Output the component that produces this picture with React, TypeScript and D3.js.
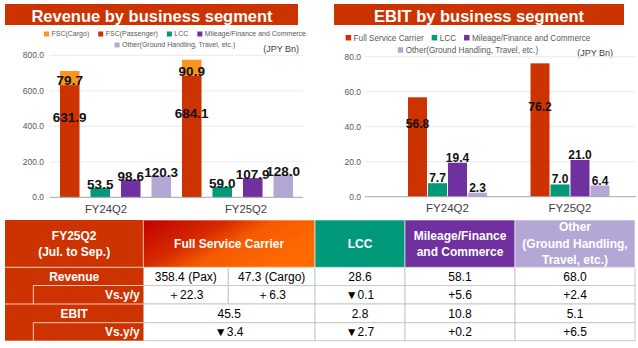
import React from "react";
import * as d3 from "d3";

// ---------- data ----------
const categories = ["FY24Q2", "FY25Q2"];
const revCargo = [79.7, 90.9];
const revPax = [631.9, 684.1];
const revLCC = [53.5, 59.0];
const revMileage = [98.6, 107.9];
const revOther = [120.3, 128.0];
const revTicks = [0, 200, 400, 600, 800];

const ebitFSC = [56.8, 76.2];
const ebitLCC = [7.7, 7.0];
const ebitMileage = [19.4, 21.0];
const ebitOther = [2.3, 6.4];
const ebitTicks = [0, 20, 40, 60, 80];

const revLegend = ["FSC(Cargo)", "FSC(Passenger)", "LCC", "Mileage/Finance and Commerce", "Other(Ground Handling, Travel, etc.)"];
const ebitLegend = ["Full Service Carrier", "LCC", "Mileage/Finance and Commerce", "Other(Ground Handling, Travel, etc.)"];

const tablePeriod = ["FY25Q2", "(Jul. to Sep.)"];
const tableSegments = [["Full Service Carrier"], ["LCC"], ["Mileage/Finance", "and Commerce"], ["Other", "(Ground Handling,", "Travel, etc.)"]];
const rowLabels = ["Revenue", "Vs.y/y", "EBIT", "Vs.y/y"];
const revenueValues = ["358.4 (Pax)", "47.3 (Cargo)", "28.6", "58.1", "68.0"];
const revenueYoY = ["＋22.3", "＋6.3", "▼0.1", "+5.6", "+2.4"];
const ebitValues = ["45.5", "2.8", "10.8", "5.1"];
const ebitYoY = ["▼3.4", "▼2.7", "+0.2", "+6.5"];

// ---------- style ----------
const FONT = "'Liberation Sans', Arial, Helvetica, sans-serif";
const RED = "#cc3300";
const ORANGE = "#f8961e";
const TEAL = "#00997a";
const PURPLE = "#7030a0";
const LAVENDER = "#b4a7d6";
const revColors = [ORANGE, RED, TEAL, PURPLE, LAVENDER];
const ebitColors = [RED, TEAL, PURPLE, LAVENDER];
const segColors = [null, TEAL, PURPLE, LAVENDER];

let _ctx: CanvasRenderingContext2D | null = null;
function tw(text: string, size: number, weight = "normal") {
  if (!_ctx && typeof document !== "undefined") _ctx = document.createElement("canvas").getContext("2d");
  if (!_ctx) return text.length * size * 0.5;
  _ctx.font = `${weight} ${size}px 'Liberation Sans'`;
  return _ctx.measureText(text).width;
}

function Legend({ items, colors, rows, ys, cx, size, sq, gap }: any) {
  const out: any[] = [];
  rows.forEach((row: number[], ri: number) => {
    const widths = row.map((i) => sq + 2.5 + tw(items[i], size));
    const total = d3.sum(widths) + gap * (row.length - 1);
    let x = cx - total / 2;
    row.forEach((i, k) => {
      out.push(
        <g key={i}>
          <rect x={x} y={ys[ri] - sq / 2} width={sq} height={sq} fill={colors[i]} />
          <text x={x + sq + 2.5} y={ys[ri]} dy="0.35em" fontSize={size} fill="#595959">{items[i]}</text>
        </g>
      );
      x += widths[k] + gap;
    });
  });
  return <g>{out}</g>;
}

function RevenueChart() {
  const y = d3.scaleLinear().domain([0, 800]).range([197.3, 55.3]);
  const x0 = d3.scaleBand().domain(categories).range([54.5, 298.5]).padding(0);
  const x1 = d3.scaleBand().domain(["fsc", "lcc", "mil", "oth"]).range([0, x0.bandwidth()]).paddingInner(0.36).paddingOuter(0.18);
  const xl = d3.scalePoint().domain(categories).range([106, 246]);
  const bw = x1.bandwidth();
  const fs = 13.5;
  return (
    <g>
      <rect x={5} y={4} width={293} height={21} fill={RED} />
      <text x={152} y={21.5} textAnchor="middle" fontSize={16.5} fontWeight="bold" fill="#fff">Revenue by business segment</text>
      <Legend items={revLegend} colors={revColors} rows={[[0, 1, 2, 3], [4]]} ys={[34, 45]} cx={175} size={7} sq={5} gap={9} />
      <text x={299} y={52} textAnchor="end" fontSize={9} fill="#404040">(JPY Bn)</text>
      {revTicks.map((t) => (
        <g key={t}>
          {t > 0 && <line x1={50} x2={303} y1={y(t)} y2={y(t)} stroke="#ebebeb" strokeWidth={1} />}
          <text x={44} y={y(t)} dy="0.35em" textAnchor="end" fontSize={8.5} fill="#595959">{t.toFixed(1)}</text>
        </g>
      ))}
      {categories.map((c, i) => {
        const gx = x0(c)!;
        const xp = gx + x1("fsc")!;
        const simple = [
          { k: "lcc", v: revLCC[i], col: TEAL },
          { k: "mil", v: revMileage[i], col: PURPLE },
          { k: "oth", v: revOther[i], col: LAVENDER },
        ];
        const paxTop = y(revPax[i]);
        const cargoTop = y(revPax[i] + revCargo[i]);
        return (
          <g key={c}>
            <rect x={xp} y={cargoTop} width={bw} height={paxTop - cargoTop} fill={ORANGE} />
            <rect x={xp} y={paxTop} width={bw} height={y(0) - paxTop} fill={RED} />
            {simple.map((s) => (
              <rect key={s.k} x={gx + x1(s.k)!} y={y(s.v)} width={bw} height={y(0) - y(s.v)} fill={s.col} />
            ))}
            <text x={xp + bw / 2} y={paxTop} textAnchor="middle" fontSize={fs} fontWeight="bold" fill="#111">{revCargo[i].toFixed(1)}</text>
            <text x={xp + bw / 2} y={(paxTop + y(0)) / 2 - 19} textAnchor="middle" fontSize={fs} fontWeight="bold" fill="#111">{revPax[i].toFixed(1)}</text>
            {simple.map((s) => (
              <text key={s.k} x={gx + x1(s.k)! + bw / 2} y={y(s.v) + 1} textAnchor="middle" fontSize={fs} fontWeight="bold" fill="#111">{s.v.toFixed(1)}</text>
            ))}
            <text x={xl(c)} y={213} textAnchor="middle" fontSize={11.3} fill="#404040">{c}</text>
          </g>
        );
      })}
      <line x1={50} x2={303} y1={y(0)} y2={y(0)} stroke="#a6a6a6" strokeWidth={1} />
    </g>
  );
}

function EbitChart() {
  const y = d3.scaleLinear().domain([0, 80]).range([196.7, 56.7]);
  const x0 = d3.scaleBand().domain(categories).range([386.25, 631.25]).paddingInner(0.347).paddingOuter(0.1735);
  const x1 = d3.scaleBand().domain(["fsc", "lcc", "mil", "oth"]).range([0, x0.bandwidth()]).paddingInner(0.05).paddingOuter(0.025);
  const bw = x1.bandwidth();
  return (
    <g>
      <rect x={334} y={4} width={290} height={21} fill={RED} />
      <text x={479} y={21.5} textAnchor="middle" fontSize={16.5} fontWeight="bold" fill="#fff">EBIT by business segment</text>
      <Legend items={ebitLegend} colors={ebitColors} rows={[[0, 1, 2], [3]]} ys={[37.7, 50]} cx={468} size={8.2} sq={5.5} gap={8} />
      <text x={613} y={56} textAnchor="end" fontSize={9} fill="#404040">(JPY Bn)</text>
      {ebitTicks.map((t) => (
        <g key={t}>
          {t > 0 && <line x1={365} x2={636} y1={y(t)} y2={y(t)} stroke="#ebebeb" strokeWidth={1} />}
          <text x={361} y={y(t)} dy="0.35em" textAnchor="end" fontSize={8.5} fill="#595959">{t.toFixed(1)}</text>
        </g>
      ))}
      {categories.map((c, i) => {
        const gx = x0(c)!;
        const segs = [
          { k: "fsc", v: ebitFSC[i], col: RED },
          { k: "lcc", v: ebitLCC[i], col: TEAL },
          { k: "mil", v: ebitMileage[i], col: PURPLE },
          { k: "oth", v: ebitOther[i], col: LAVENDER },
        ];
        return (
          <g key={c}>
            {segs.map((s) => (
              <rect key={s.k} x={gx + x1(s.k)!} y={y(s.v)} width={bw} height={y(0) - y(s.v)} fill={s.col} />
            ))}
            {segs.map((s, j) => (
              <text key={s.k} x={gx + x1(s.k)! + bw / 2}
                y={j === 0 ? (y(s.v) + y(0)) / 2 - 19 : y(s.v) - 1}
                textAnchor="middle" fontSize={12} fontWeight="bold" fill="#111">{s.v.toFixed(1)}</text>
            ))}
            <text x={gx + x0.bandwidth() / 2} y={212} textAnchor="middle" fontSize={11.5} fill="#404040">{c}</text>
          </g>
        );
      })}
      <line x1={365} x2={636} y1={y(0)} y2={y(0)} stroke="#a6a6a6" strokeWidth={1} />
    </g>
  );
}

function Table() {
  const colX = [5, 143.3, 228.3, 315, 405, 515, 635];
  const rowY = [220, 267.3, 285.5, 304, 322.7, 340.7];
  const indent = 33.3;
  const segSpans = [[1, 3], [3, 4], [4, 5], [5, 6]];
  const revSpans = [[1, 2], [2, 3], [3, 4], [4, 5], [5, 6]];
  const lh = 16.5;
  const hdrMid = (rowY[0] + rowY[1]) / 2;
  const cellText = (x: number, yy: number, t: string) => (
    <text x={x} y={yy} dy="0.36em" textAnchor="middle" fontSize={12} fill="#000">{t}</text>
  );
  const bodyRows = [
    { vals: revenueValues, spans: revSpans, r: 1 },
    { vals: revenueYoY, spans: revSpans, r: 2 },
    { vals: ebitValues, spans: segSpans, r: 3 },
    { vals: ebitYoY, spans: segSpans, r: 4 },
  ];
  return (
    <g>
      <defs>
        <linearGradient id="fscGrad" x1="0" y1="0" x2="1" y2="0.5">
          <stop offset="0%" stopColor="#c00000" />
          <stop offset="40%" stopColor="#d52a00" />
          <stop offset="62%" stopColor="#f55a00" />
          <stop offset="100%" stopColor="#ff6a00" />
        </linearGradient>
      </defs>
      {bodyRows.map((br) =>
        br.spans.map(([a, b], k) => (
          <g key={`${br.r}-${k}`}>
            <rect x={colX[a]} y={rowY[br.r]} width={colX[b] - colX[a]} height={rowY[br.r + 1] - rowY[br.r]} fill="#fff" stroke="#c8c8c8" strokeWidth={1} />
            {cellText((colX[a] + colX[b]) / 2, (rowY[br.r] + rowY[br.r + 1]) / 2, br.vals[k])}
          </g>
        ))
      )}
      <rect x={colX[0]} y={rowY[0]} width={colX[1] - colX[0]} height={rowY[5] - rowY[0]} fill={RED} />
      {[1, 3].map((r) => (
        <line key={"h" + r} x1={colX[0]} x2={colX[1]} y1={rowY[r]} y2={rowY[r]} stroke="#fff" strokeOpacity={0.75} strokeWidth={1} />
      ))}
      {[2, 4].map((r) => (
        <g key={"v" + r}>
          <line x1={indent} x2={colX[1]} y1={rowY[r]} y2={rowY[r]} stroke="#fff" strokeOpacity={0.75} strokeWidth={1} />
          <line x1={indent} x2={indent} y1={rowY[r]} y2={rowY[r + 1]} stroke="#fff" strokeOpacity={0.75} strokeWidth={1} />
        </g>
      ))}
      {tablePeriod.map((t, i) =>
        <text key={t} x={(colX[0] + colX[1]) / 2} y={hdrMid + (i - (tablePeriod.length - 1) / 2) * lh} dy="0.36em" textAnchor="middle" fontSize={12} fontWeight="bold" fill="#fff">{t}</text>
      )}
      {rowLabels.map((t, i) => {
        const r = i + 1;
        const yy = (rowY[r] + rowY[r + 1]) / 2;
        return i % 2 === 0
          ? <text key={i} x={(colX[0] + colX[1]) / 2} y={yy} dy="0.36em" textAnchor="middle" fontSize={12} fontWeight="bold" fill="#fff">{t}</text>
          : <text key={i} x={colX[1] - 3.5} y={yy} dy="0.36em" textAnchor="end" fontSize={12} fontWeight="bold" fill="#fff">{t}</text>;
      })}
      {segSpans.map(([a, b], k) => (
        <g key={"seg" + k}>
          <rect x={colX[a]} y={rowY[0]} width={colX[b] - colX[a]} height={rowY[1] - rowY[0]} fill={k === 0 ? "url(#fscGrad)" : segColors[k]!} stroke="#fff" strokeOpacity={0.6} strokeWidth={1} />
          {tableSegments[k].map((t, i) => (
            <text key={i} x={(colX[a] + colX[b]) / 2} y={hdrMid + (i - (tableSegments[k].length - 1) / 2) * lh} dy="0.36em" textAnchor="middle" fontSize={12} fontWeight="bold" fill="#fff">{t}</text>
          ))}
        </g>
      ))}
    </g>
  );
}

export default function App() {
  return (
    <svg width={638} height={348} viewBox="0 0 638 348" style={{ position: "absolute", left: 0, top: 0, background: "#fff" }} fontFamily={FONT}>
      <rect x={0} y={0} width={638} height={348} fill="#fff" />
      <RevenueChart />
      <EbitChart />
      <Table />
    </svg>
  );
}
